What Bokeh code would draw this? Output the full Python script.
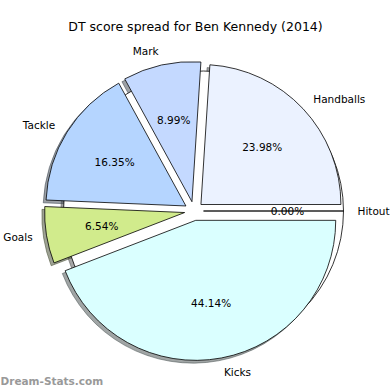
import numpy as np
from bokeh.plotting import figure
from bokeh.models import Range1d, ColumnDataSource
from bokeh.core.properties import value
from bokeh.embed import file_html
from bokeh.resources import INLINE

categories = ["Hitout", "Handballs", "Mark", "Tackle", "Goals", "Kicks"]
shares = [0.00, 23.98, 8.99, 16.35, 6.54, 44.14]
colors = ["#FFFFFF", "#EBF2FF", "#C4D9FF", "#B5D5FF", "#D1EB8C", "#DAFFFF"]
title_text = "DT score spread for Ben Kennedy (2014)"
watermark = "Dream-Stats.com"

vals = np.array(shares, dtype=float)
frac = vals / vals.sum()
ends = np.cumsum(frac) * 2 * np.pi
starts = ends - frac * 2 * np.pi
mids = (starts + ends) / 2

R = 140.0
cx, cy = 193.5, 179.5
explode = 9.5
ox = cx + explode * np.cos(mids)
oy = cy + explode * np.sin(mids)

def shade(h):
    h = h.lstrip("#")
    r, g, b = (int(h[i:i + 2], 16) for i in (0, 2, 4))
    return "#%02x%02x%02x" % (int(r * 0.3), int(g * 0.3), int(b * 0.3))

src = ColumnDataSource(dict(
    x=ox, y=oy, sx=ox - 2.8, sy=oy - 2.8,
    start=starts, end=ends, color=colors,
    shadow=[shade(c) for c in colors],
))

p = figure(width=390, height=390, output_backend="svg", toolbar_location=None,
           x_range=Range1d(0, 390), y_range=Range1d(0, 390),
           min_border=0, tools="")
p.axis.visible = False
p.grid.visible = False
p.outline_line_color = None
p.background_fill_color = "white"
p.border_fill_color = "white"

p.wedge(x="sx", y="sy", radius=R, start_angle="start", end_angle="end",
        fill_color="shadow", fill_alpha=0.5, line_color="shadow", line_alpha=0.5,
        line_width=1, source=src)
p.wedge(x="x", y="y", radius=R, start_angle="start", end_angle="end",
        fill_color="color", line_color="black", line_width=0.8, source=src)

# category labels
lx = ox + 1.1 * R * np.cos(mids)
ly = oy + 1.1 * R * np.sin(mids)
align = ["left" if np.cos(m) > 0 else "right" for m in mids]
p.text(x=lx, y=ly, text=categories, text_align=align, text_baseline="middle",
       text_font=value("DejaVu Sans"), text_font_size="10.5px", text_color="black")

# percent labels
px = ox + 0.6 * R * np.cos(mids)
py = oy + 0.6 * R * np.sin(mids)
pct = ["%.2f%%" % (f * 100) for f in frac]
p.text(x=px, y=py, text=pct, text_align="center", text_baseline="middle",
       text_font=value("DejaVu Sans"), text_font_size="10.5px", text_color="black")

p.text(x=[195], y=[364], text=[title_text], text_align="center", text_baseline="middle",
       text_font=value("DejaVu Sans"), text_font_size="12.5px", text_color="black")
p.text(x=[0], y=[10], text=[watermark], text_align="left", text_baseline="middle",
       text_font=value("DejaVu Sans"), text_font_size="10.5px", text_color="#999999",
       text_font_style="bold")

open("out.html", "w").write(file_html(p, INLINE))
